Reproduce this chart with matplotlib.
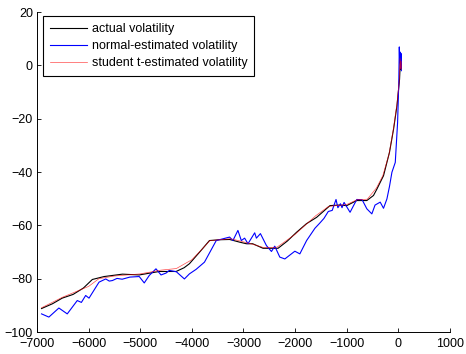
import matplotlib
matplotlib.use('Agg')
import matplotlib.pyplot as plt

plt.rcParams['font.family'] = ['Liberation Sans', 'DejaVu Sans']
plt.rcParams['font.size'] = 9

# actual volatility
x_act = [-6912, -6700, -6512, -6300, -6100, -5928, -5700, -5344, -5019, -4630,
         -4305, -4150, -4047, -3852, -3658, -3463, -3268, -3074, -2944, -2821,
         -2620, -2329, -2150, -1971, -1780, -1582, -1323, -1150, -998, -804,
         -609, -480, -414, -317, -286, -170, -91, -25, 25, 39, 50, 60]
y_act = [-91.2, -89.4, -87.3, -85.9, -83.5, -80.3, -79.2, -78.3, -78.6, -77.3,
         -77.3, -75.9, -74.4, -70.1, -65.7, -65.4, -65.3, -66.3, -66.9, -66.9,
         -68.6, -68.6, -65.9, -62.6, -59.4, -57.0, -52.6, -52.4, -52.6, -50.7,
         -50.7, -48.8, -46.4, -42.6, -41.4, -32.6, -23.9, -15.1, -5.2, 1.1, -1.5, 0.5]

# normal-estimated volatility
x_norm = [-6912, -6770, -6576, -6414, -6220, -6140, -6057, -5992, -5798, -5668,
          -5600, -5539, -5450, -5350, -5200, -5019, -4922, -4825, -4695, -4597,
          -4500, -4436, -4300, -4144, -4047, -3917, -3755, -3527, -3268, -3204,
          -3107, -3041, -2977, -2912, -2782, -2749, -2671, -2554, -2457, -2393,
          -2296, -2198, -2004, -1907, -1776, -1615, -1518, -1440, -1356, -1280,
          -1206, -1170, -1120, -1090, -1050, -934, -804, -700, -609, -512,
          -450, -350, -286, -220, -170, -123, -58, -13, 10, 20, 28, 36, 44, 52, 60]
y_norm = [-93.2, -94.4, -91.0, -93.2, -88.2, -88.9, -86.3, -87.3, -81.3, -80.1,
          -80.9, -80.7, -79.9, -80.2, -79.4, -79.2, -81.6, -78.8, -76.3, -78.6,
          -77.9, -76.9, -77.4, -80.1, -78.2, -76.5, -73.8, -65.7, -64.4, -65.7,
          -61.9, -65.7, -64.8, -66.9, -62.8, -64.8, -63.1, -67.6, -69.8, -67.8,
          -71.9, -72.6, -69.7, -70.7, -65.7, -61.1, -59.1, -57.4, -54.8, -54.4,
          -50.3, -53.4, -51.9, -53.4, -51.4, -55.1, -50.3, -50.4, -53.8, -55.7,
          -52.4, -51.3, -53.6, -50.1, -45.4, -40.1, -36.4, -21.4, -6.4, 6.9, 1.0,
          5.0, -1.0, 4.5, -2.0]

# student t-estimated volatility
x_t = [-6912, -6500, -6000, -5800, -5500, -5000, -4600, -4300, -4000, -3800,
       -3650, -3450, -3250, -3000, -2800, -2600, -2350, -2000, -1800, -1600,
       -1350, -1000, -800, -600, -420, -300, -180, -90, -25, 20, 35, 45, 55, 62]
y_t = [-90.9, -86.9, -82.9, -80.0, -79.0, -78.2, -76.8, -76.2, -72.9, -68.9,
       -65.7, -65.4, -65.0, -66.2, -67.2, -68.4, -68.2, -63.4, -59.9, -56.4,
       -52.9, -52.2, -50.4, -50.2, -45.9, -41.4, -33.4, -23.4, -14.4, -5.4,
       2.6, -1.4, 1.6, -1.4]

fig = plt.figure(figsize=(4.66, 3.54), dpi=100)
ax = fig.add_axes([0.0794, 0.0621, 0.886, 0.904])

ax.plot(x_act, y_act, color='black', lw=0.8, label='actual volatility')
ax.plot(x_norm, y_norm, color='blue', lw=0.8, label='normal-estimated volatility')
ax.plot(x_t, y_t, color='red', lw=0.5, alpha=0.7, label='student t-estimated volatility')

ax.set_xlim(-7000, 1000)
ax.set_ylim(-100, 20)
ax.set_xticks(range(-7000, 1001, 1000))
ax.set_yticks(range(-100, 21, 20))
ax.spines['top'].set_visible(False)
ax.spines['right'].set_visible(False)
ax.tick_params(direction='in', length=3, width=0.6, labelsize=9)
ax.tick_params(axis='x', pad=4)
ax.tick_params(axis='y', pad=3)
for s in ['left', 'bottom']:
    ax.spines[s].set_linewidth(0.7)

leg = ax.legend(loc='upper left', bbox_to_anchor=(0.0145, 0.9875), borderaxespad=0,
                fancybox=False, framealpha=1, edgecolor='black', fontsize=9,
                handlelength=3.0, borderpad=0.55, labelspacing=0.42, handletextpad=0.35)
leg.get_frame().set_linewidth(0.8)

fig.savefig('out.png', dpi=100)
